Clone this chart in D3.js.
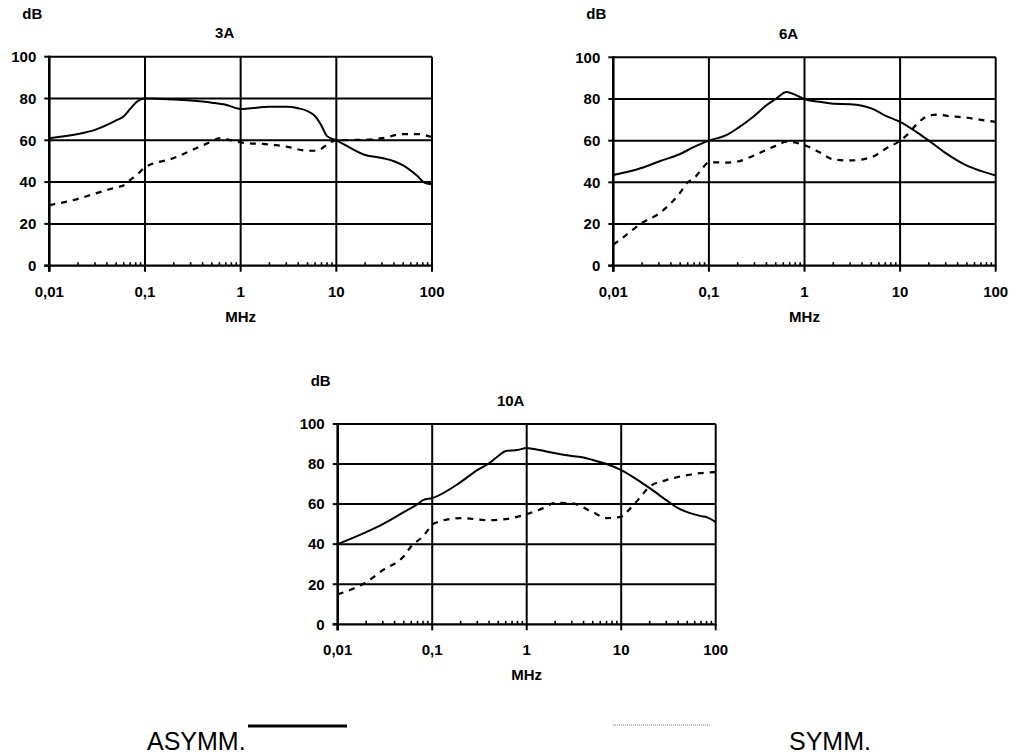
<!DOCTYPE html>
<html>
<head>
<meta charset="utf-8">
<script src="https://cdn.jsdelivr.net/npm/d3@7"></script>
<style>
  body { margin: 0; background: #fff; }
  text { font-family: "Liberation Sans", Arial, sans-serif; }
  .lbl { font-weight: bold; font-size: 15px; }
  .legend { font-size: 25px; }
</style>
</head>
<body>
<svg id="chart" width="1013" height="756"></svg>
<script>
// frequency (MHz), level (dB)
const asym3A = [[0.01,61],[0.02,63],[0.03,65],[0.05,69.5],[0.06,71.5],[0.07,75],[0.08,78],[0.1,80],
  [0.2,79.5],[0.3,79],[0.5,78],[0.7,77],[1,75],[1.2,75.2],[2,76],[3,76],[4,75.3],[5,74],[6,71.5],
  [7,67],[8,62],[10,60],[20,53],[30,51.5],[40,50],[50,48],[70,43],[85,39.5],[100,39]] ;
const sym3A = [[0.01,29],[0.02,32],[0.03,34.5],[0.05,37.5],[0.06,38.5],[0.07,41],[0.08,43],[0.1,47],
  [0.2,51.5],[0.3,55],[0.5,59.5],[0.6,61],[0.8,60],[1,59],[2,58],[3,57],[5,55],[6,55],[7,56],
  [8,58],[10,60],[20,60.3],[30,61],[50,63],[70,63],[100,61.5]] ;

const asym6A = [[0.01,43.5],[0.02,47],[0.03,50],[0.05,53.6],[0.07,57],[0.1,60],[0.15,62.5],[0.2,66],
  [0.3,72],[0.4,77],[0.5,80],[0.65,83.3],[0.8,82],[1,80],[1.5,78.5],[2,77.7],[3,77.5],[4,76.8],
  [5,75.5],[7,72],[10,69],[15,64],[20,60],[30,54],[50,48],[70,45.5],[100,43.3]] ;
const sym6A = [[0.01,10],[0.013,14],[0.02,20.6],[0.03,25],[0.04,30],[0.05,35],[0.06,40],[0.07,42],
  [0.08,45],[0.1,49.6],[0.15,49.5],[0.2,50],[0.3,53],[0.5,57.5],[0.65,59.5],[1,57.8],[1.5,54],
  [2,51],[3,50.5],[5,52],[7,56],[10,60],[12,63],[15,68],[20,72],[25,72.5],[30,72],[50,71],[70,70],[100,69]] ;

const asym10A = [[0.01,40],[0.02,46],[0.03,50],[0.05,56],[0.07,60],[0.08,62],[0.1,63],[0.2,71],
  [0.3,77],[0.4,80.4],[0.5,84],[0.6,86.5],[0.8,87],[1,88],[1.2,87.5],[2,85.4],[3,84],[4,83.3],
  [5,82],[7,80],[10,77],[15,72],[20,68],[30,62],[40,58],[50,56],[70,54],[80,53.5],[100,51]] ;
const sym10A = [[0.01,15],[0.015,18],[0.02,21],[0.03,27],[0.05,34],[0.06,39],[0.08,44],[0.09,47],
  [0.1,50],[0.2,53],[0.4,52],[0.6,52.5],[1,55],[1.5,58],[2,60.7],[3,60.4],[5,56],[7,53],[10,53.7],
  [12,57],[15,62],[20,68.7],[30,72],[50,74.5],[70,75.5],[100,76]] ;

const titles = ["3A", "6A", "10A"] ;
const xTicks = [0.01, 0.1, 1, 10, 100] ;
const xTickLabels = ["0,01", "0,1", "1", "10", "100"] ;
const yTicks = [0, 20, 40, 60, 80, 100] ;
const legendLabels = ["ASYMM.", "SYMM."] ;

const panels = [
  {x0: 49.3,  x1: 432,   y0: 56.7, y1: 265.7, asym: asym3A,  sym: sym3A},
  {x0: 613.3, x1: 995.7, y0: 57.3, y1: 265.7, asym: asym6A,  sym: sym6A},
  {x0: 337.7, x1: 715.7, y0: 424,  y1: 624.3, asym: asym10A, sym: sym10A},
] ;

const svg = d3.select("#chart") ;

function drawPanel(p, title) {
  const xScale = d3.scaleLog().domain([0.01, 100]).range([p.x0, p.x1]) ;
  const yScale = d3.scaleLinear().domain([0, 100]).range([p.y1, p.y0]) ;
  const g = svg.append("g") ;

  // grid
  g.selectAll(".hgrid").data(yTicks.filter(d => d > 0)).enter().append("line")
    .attr("x1", p.x0).attr("x2", p.x1)
    .attr("y1", d => yScale(d)).attr("y2", d => yScale(d))
    .attr("stroke", "#000").attr("stroke-width", 2) ;
  g.selectAll(".vgrid").data(xTicks.filter(d => d > 0.01)).enter().append("line")
    .attr("x1", d => xScale(d)).attr("x2", d => xScale(d))
    .attr("y1", p.y0).attr("y2", p.y1)
    .attr("stroke", "#000").attr("stroke-width", 2) ;

  // minor ticks on x axis, pointing up
  const minors = [] ;
  for (let dec = 0.01; dec < 100; dec *= 10) {
    for (let k = 2; k <= 9; k++) minors.push(dec * k) ;
  }
  g.selectAll(".minor").data(minors).enter().append("line")
    .attr("x1", d => xScale(d)).attr("x2", d => xScale(d))
    .attr("y1", p.y1).attr("y2", p.y1 - 3.5)
    .attr("stroke", "#000").attr("stroke-width", 1.6) ;

  // major x ticks, pointing down
  g.selectAll(".major").data(xTicks).enter().append("line")
    .attr("x1", d => xScale(d)).attr("x2", d => xScale(d))
    .attr("y1", p.y1).attr("y2", p.y1 + 6)
    .attr("stroke", "#000").attr("stroke-width", 2) ;

  // y ticks
  g.selectAll(".ytick").data(yTicks).enter().append("line")
    .attr("x1", p.x0 - 5).attr("x2", p.x0)
    .attr("y1", d => yScale(d)).attr("y2", d => yScale(d))
    .attr("stroke", "#000").attr("stroke-width", 2) ;

  // axes
  g.append("line").attr("x1", p.x0).attr("x2", p.x0).attr("y1", p.y0 - 1).attr("y2", p.y1 + 6)
    .attr("stroke", "#000").attr("stroke-width", 2.6) ;
  g.append("line").attr("x1", p.x0 - 5).attr("x2", p.x1 + 1).attr("y1", p.y1).attr("y2", p.y1)
    .attr("stroke", "#000").attr("stroke-width", 2.2) ;

  // tick labels
  g.selectAll(".ylab").data(yTicks).enter().append("text")
    .attr("class", "lbl")
    .attr("x", p.x0 - 13).attr("y", d => yScale(d) + 5.3)
    .attr("text-anchor", "end")
    .text(d => d) ;
  g.selectAll(".xlab").data(xTicks).enter().append("text")
    .attr("class", "lbl")
    .attr("x", d => xScale(d)).attr("y", p.y1 + 31)
    .attr("text-anchor", "middle")
    .text((d, i) => xTickLabels[i]) ;

  const mid = (p.x0 + p.x1) / 2 ;
  g.append("text").attr("class", "lbl").attr("x", mid).attr("y", p.y1 + 56)
    .attr("text-anchor", "middle").text("MHz") ;
  g.append("text").attr("class", "lbl").attr("x", mid - 16).attr("y", p.y0 - 18.5)
    .attr("text-anchor", "middle").text(title) ;
  g.append("text").attr("class", "lbl").attr("x", p.x0 - 27).attr("y", p.y0 - 38)
    .text("dB") ;

  // curves
  const line = d3.line()
    .x(d => xScale(d[0]))
    .y(d => yScale(d[1]))
    .curve(d3.curveMonotoneX) ;
  g.append("path").datum(p.sym)
    .attr("d", line).attr("fill", "none")
    .attr("stroke", "#000").attr("stroke-width", 2.2)
    .attr("stroke-dasharray", "6,6") ;
  g.append("path").datum(p.asym)
    .attr("d", line).attr("fill", "none")
    .attr("stroke", "#000").attr("stroke-width", 2) ;
}

panels.forEach((p, i) => drawPanel(p, titles[i])) ;

// legend
svg.append("text").attr("class", "legend").attr("x", 147).attr("y", 750).text(legendLabels[0]) ;
svg.append("line").attr("x1", 248).attr("x2", 347).attr("y1", 726).attr("y2", 726)
  .attr("stroke", "#000").attr("stroke-width", 3) ;
svg.append("line").attr("x1", 613).attr("x2", 710).attr("y1", 725).attr("y2", 725)
  .attr("stroke", "#777").attr("stroke-width", 1.2).attr("stroke-dasharray", "1,1") ;
svg.append("text").attr("class", "legend").attr("x", 789).attr("y", 750).text(legendLabels[1]) ;
</script>
</body>
</html>
